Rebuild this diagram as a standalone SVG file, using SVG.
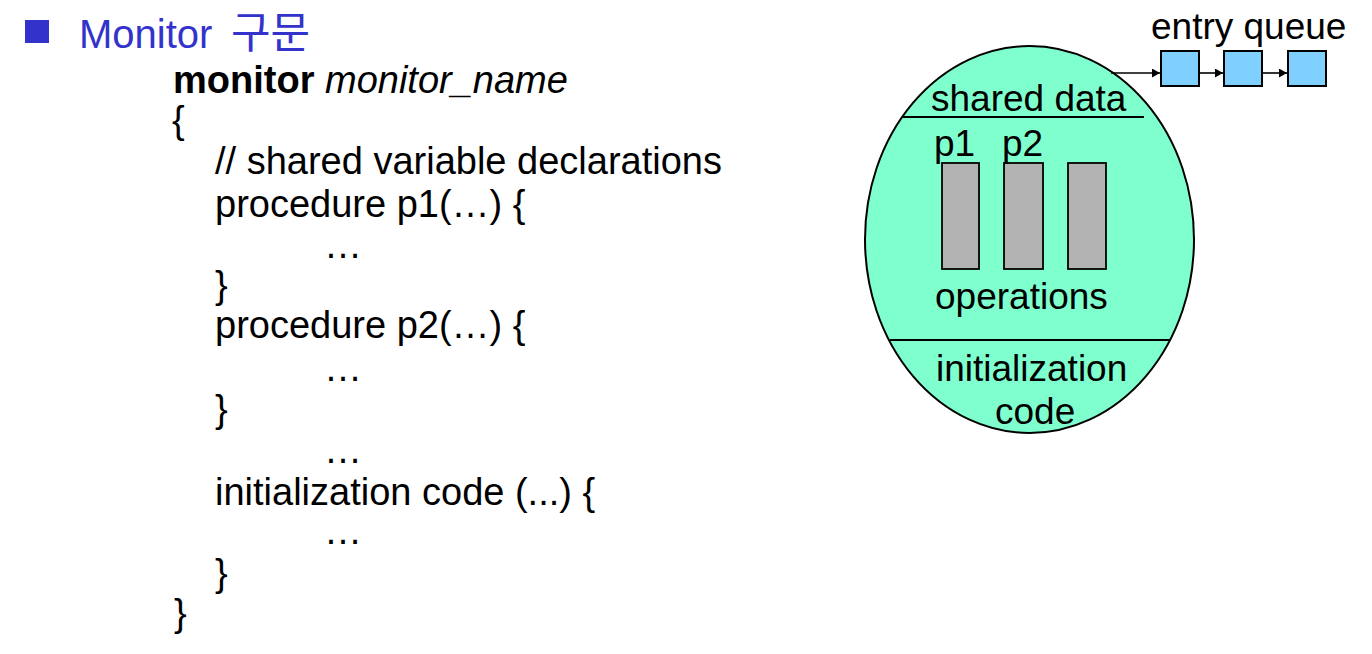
<svg xmlns="http://www.w3.org/2000/svg" width="1372" height="654" viewBox="0 0 1372 654">
  <style>
    .t { font-family: "Liberation Sans", Arial, "Noto Sans CJK KR", sans-serif; fill: #000; }
    .code { font-size: 38px; }
    .lbl { font-size: 37px; }
    .title { font-size: 40px; fill: #3333CC; }
    .ln { stroke: #000; stroke-width: 2; fill: none; }
    .op { fill: #B3B3B3; stroke: #000; stroke-width: 1.8; }
    .q { fill: #80D0FF; stroke: #000; stroke-width: 2; }
    .arr { stroke: #000; stroke-width: 1.6; fill: none; marker-end: url(#ah); }
  </style>
  <defs>
    <marker id="ah" markerUnits="userSpaceOnUse" markerWidth="9" markerHeight="10" refX="8" refY="4.5" orient="auto">
      <path d="M0,0 L8,4.5 L0,9 Z" fill="#000"/>
    </marker>
  </defs>
  <rect width="1372" height="654" fill="#fff"/>

  <g id="title">
    <rect x="25" y="20" width="24" height="23" fill="#3333CC"/>
    <text class="t title" x="79" y="48">Monitor <tspan x="231" font-size="43">구문</tspan></text>
  </g>

  <g id="code" class="t code">
    <text x="173" y="93"><tspan font-weight="bold">monitor</tspan> <tspan font-style="italic">monitor_name</tspan></text>
    <text x="172" y="133">{</text>
    <text x="215" y="174">// shared variable declarations</text>
    <text x="215" y="217">procedure p1(…) {</text>
    <text x="324" y="258">…</text>
    <text x="215" y="298">}</text>
    <text x="215" y="338">procedure p2(…) {</text>
    <text x="324" y="381">…</text>
    <text x="215" y="422">}</text>
    <text x="324" y="463">…</text>
    <text x="215" y="505">initialization code (...) {</text>
    <text x="324" y="544">…</text>
    <text x="215" y="586">}</text>
    <text x="174" y="626">}</text>
  </g>

  <g id="monitor">
    <ellipse cx="1029.5" cy="239.5" rx="164.5" ry="193.5" fill="#7FFFCE" stroke="#000" stroke-width="2"/>
    <line class="ln" x1="903" y1="117" x2="1144" y2="117"/>
    <line class="ln" x1="890" y1="340" x2="1170" y2="340"/>
    <text class="t lbl" x="931" y="111">shared data</text>
    <text class="t lbl" x="935" y="309">operations</text>
    <text class="t lbl" x="936" y="381">initialization</text>
    <text class="t lbl" x="995" y="424">code</text>
  </g>

  <g id="op-p1">
    <rect class="op" x="942" y="163" width="37" height="106"/>
    <text class="t lbl" x="934" y="156">p1</text>
  </g>
  <g id="op-p2">
    <rect class="op" x="1004" y="163" width="39" height="106"/>
    <text class="t lbl" x="1002" y="156">p2</text>
  </g>
  <g id="op-p3">
    <rect class="op" x="1068" y="163" width="38" height="106"/>
  </g>

  <g id="entry-queue">
    <text class="t lbl" x="1151" y="39">entry queue</text>
  </g>
  <g id="q1"><rect class="q" x="1161" y="51" width="38" height="35"/></g>
  <g id="q2"><rect class="q" x="1224" y="51" width="38" height="35"/></g>
  <g id="q3"><rect class="q" x="1288" y="51" width="38" height="35"/></g>

  <g id="connectors">
    <line class="arr" x1="1111" y1="73" x2="1160" y2="73"/>
    <line class="arr" x1="1199" y1="73" x2="1223" y2="73"/>
    <line class="arr" x1="1262" y1="73" x2="1287" y2="73"/>
  </g>
</svg>
